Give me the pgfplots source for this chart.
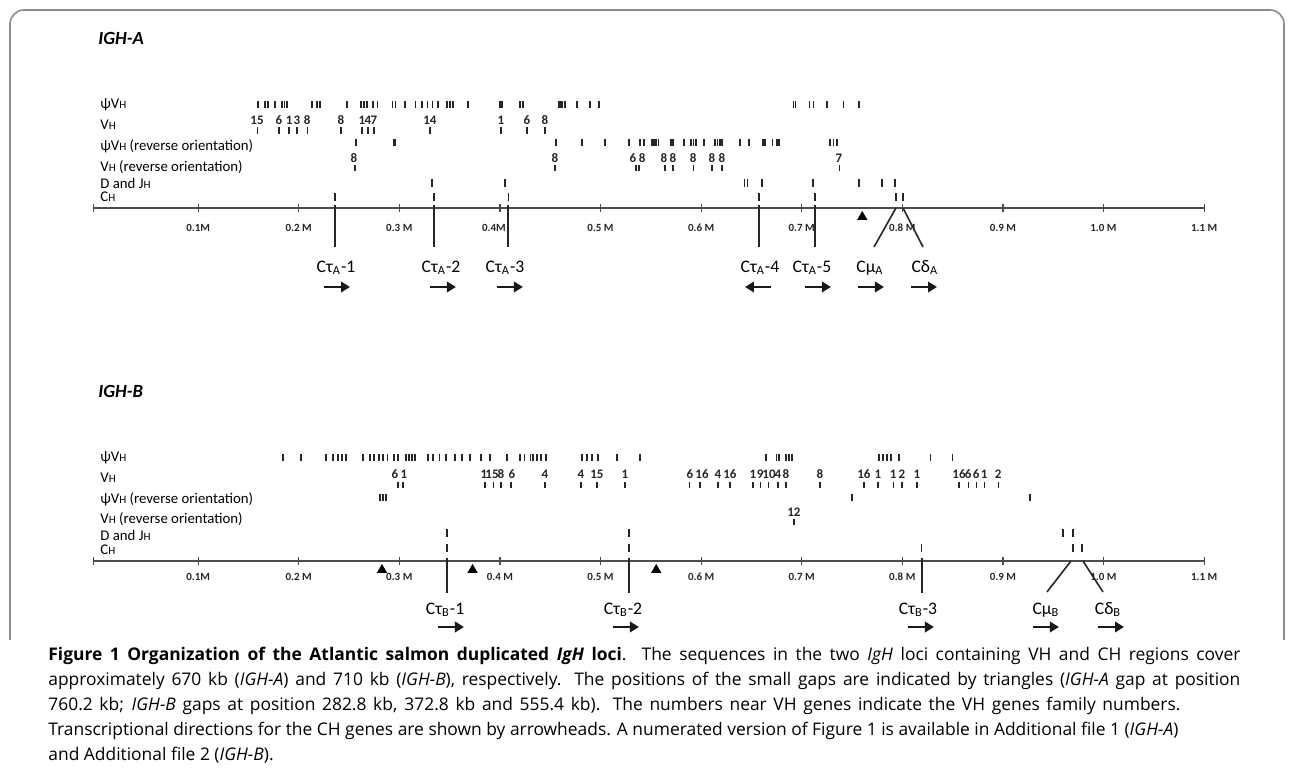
\documentclass[border=0pt]{standalone}
\usepackage{pgfplots}
\pgfplotsset{compat=1.18}
\usepackage{fontspec}
\setmainfont{Carlito}
\newfontfamily\capfont{Open Sans}
\usetikzlibrary{arrows.meta}
\newcommand{\sH}{{\fontsize{5.6}{6}\selectfont H}}
\newcommand{\rowfont}{\fontsize{7.4}{8}\selectfont}
\newcommand{\numfont}{\fontsize{6.5}{6.5}\selectfont\bfseries}
\newcommand{\tickfont}{\fontsize{5.5}{6}\selectfont\bfseries}
\newcommand{\gfont}{\fontsize{8.8}{10}\selectfont}
\newcommand{\ttlfont}{\fontsize{9.3}{10}\selectfont\bfseries\itshape}
\pgfplotsset{
  locus/.style={
    scale only axis, width=555.31pt, height=145pt,
    xmin=-4, xmax=1100, ymin=-100, ymax=190,
    axis x line=middle, axis y line=none,
    x axis line style={-, line width=0.6pt, draw=black!70},
    enlargelimits=false, clip=false,
    xtick={-4,100,200,300,400,500,600,700,800,900,1000,1100},
    tick align=center, major tick length=4pt,
    tick style={line width=0.6pt, black!70},
    xticklabel style={font=\tickfont, text=black!85, inner sep=0pt, anchor=north},
    anchor=south west,
  },
  gt/.style={only marks, mark=|, mark size=#1, mark options={line width=0.55pt, draw=black!85}},
  gb/.style={only marks, mark=|, mark size=#1, mark options={line width=1.2pt, draw=black!85}},
  lab/.style={draw=none, mark=none, nodes near coords, point meta=explicit symbolic,
    nodes near coords style={font=\numfont, anchor=center, inner sep=0pt, text=black!85}},
  cline/.style={line width=0.8pt, black!85},
  arr/.style={line width=1.1pt, black!90, -{Triangle[length=4.5pt,width=5.2pt]}},
  gap/.style={only marks, mark=triangle*, mark size=2.6pt, black},
}
\begin{document}
\begin{tikzpicture}[x=0.5pt,y=0.5pt]
\path (0,0) rectangle (1292,780);
\draw[black!45, line width=0.8pt, rounded corners=7pt] (10,140) -- (10,770) -- (1284,770) -- (1284,140);

% ---------------- IGH-A ----------------
\begin{axis}[locus, at={(46.74pt,236pt)}, xticklabel style={yshift=-5.8pt},
  xticklabels={,0.1M,0.2 M,0.3 M,0.4M\kern6pt,0.5 M,0.6 M,0.7 M,0.8 M,0.9 M,1.0 M,1.1 M}]
\node[anchor=west, inner sep=0pt, font=\ttlfont] at (axis cs:0.5,170) {IGH-A};
\node[anchor=west, inner sep=0pt, font=\rowfont] at (axis cs:2.5,103) {ψV\sH};
\node[anchor=west, inner sep=0pt, font=\rowfont] at (axis cs:2.5,83) {V\sH};
\node[anchor=west, inner sep=0pt, font=\rowfont] at (axis cs:2.5,62) {ψV\sH\ (reverse orientation)};
\node[anchor=west, inner sep=0pt, font=\rowfont] at (axis cs:2.5,41) {V\sH\ (reverse orientation)};
\node[anchor=west, inner sep=0pt, font=\rowfont] at (axis cs:2.5,25) {D and J\sH};
\node[anchor=west, inner sep=0pt, font=\rowfont] at (axis cs:2.5,11) {C\sH};
% psi VH
\addplot[gt=1.75pt] table[row sep=\\, y expr=103] {x\\ 159.5\\ 166.5\\ 169.5\\ 176.4\\ 183.4\\ 185.9\\ 188.4\\ 213.2\\ 218.2\\ 221.2\\ 248.0\\ 261.9\\ 264.9\\ 267.9\\ 273.9\\ 277.9\\ 292.8\\ 295.8\\ 315.7\\ 322.6\\ 327.6\\ 332.6\\ 338.5\\ 400.1\\ 402.1\\ 420.0\\ 423.0\\ 457.8\\ 459.7\\ 461.7\\ 464.7\\ 476.6\\ 498.5\\ 691.4\\ 693.4\\ 707.3\\ 711.3\\ 741.1\\ 757.0\\};
\addplot[gb=1.75pt] table[row sep=\\, y expr=103] {x\\ 305.7\\ 347.4\\ 350.4\\ 353.4\\ 368.3\\ 489.6\\ 725.2\\};
% VH
\addplot[gt=1.6pt] table[row sep=\\, y expr=77.5] {x\\ 158.6\\ 180.4\\ 190.4\\ 198.3\\ 208.3\\ 242.0\\ 262.9\\ 268.9\\ 274.8\\ 330.5\\ 401.1\\ 426.9\\ 444.8\\};
\addplot[lab] table[row sep=\\, y expr=87.5, meta=lab] {x lab\\ 158.6 15\\ 180.4 6\\ 190.4 1\\ 198.3 3\\ 208.3 8\\ 242.0 8\\ 262.9 1\\ 268.9 4\\ 274.8 7\\ 330.5 14\\ 401.1 1\\ 426.9 6\\ 444.8 8\\};
% psi VH reverse
\addplot[gt=1.75pt] table[row sep=\\, y expr=65] {x\\ 257.0\\ 455.8\\ 504.5\\ 528.3\\ 551.2\\ 553.2\\ 555.2\\ 557.2\\ 570.1\\ 572.1\\ 583.0\\ 590.0\\ 592.4\\ 594.9\\ 602.9\\ 613.8\\ 616.3\\ 618.8\\ 620.8\\ 638.7\\ 647.6\\ 661.5\\ 663.5\\ 671.4\\ 675.4\\ 677.4\\ 728.1\\ 731.6\\ 735.1\\};
\addplot[gb=1.75pt] table[row sep=\\, y expr=65] {x\\ 295.1\\ 481.6\\ 539.0\\ 543.5\\};
% VH reverse
\addplot[gt=1.6pt] table[row sep=\\, y expr=40] {x\\ 256.0\\ 454.8\\ 535.3\\ 538.3\\ 564.1\\ 572.1\\ 592.0\\ 610.8\\ 620.8\\ 738.0\\};
\addplot[lab] table[row sep=\\, y expr=50, meta=lab] {x lab\\ 255.0 8\\ 454.8 8\\ 532.3 6\\ 541.3 8\\ 563.1 8\\ 572.1 8\\ 592.0 8\\ 610.8 8\\ 620.8 8\\ 737.0 7\\};
% D and JH
\addplot[gt=2pt] table[row sep=\\, y expr=25] {x\\ 643.1\\ 646.1\\ 711.2\\};
\addplot[gb=2pt] table[row sep=\\, y expr=25] {x\\ 332.5\\ 405.1\\ 660.5\\ 757.0\\ 779.9\\ 792.8\\};
% CH
\addplot[gt=2pt] table[row sep=\\, y expr=11] {x\\ 236.1\\ 334.5\\ 408.1\\ 657.5\\ 713.2\\ 793.7\\ 800.7\\};
% constant gene lines
\addplot[cline] coordinates {(236.1,3) (236.1,-39)};
\addplot[cline] coordinates {(334.5,3) (334.5,-39)};
\addplot[cline] coordinates {(408.1,3) (408.1,-39)};
\addplot[cline] coordinates {(657.5,3) (657.5,-39)};
\addplot[cline] coordinates {(713.2,3) (713.2,-39)};
\addplot[cline] coordinates {(793.7,0) (771.9,-39)};
\addplot[cline] coordinates {(800.7,0) (820.6,-39)};
\addplot[gap] coordinates {(760.2,-9)};
\node[font=\gfont, inner sep=0pt] at (axis cs:237.1,-60) {Cτ\textsubscript{A}-1};
\node[font=\gfont, inner sep=0pt] at (axis cs:341.5,-60) {Cτ\textsubscript{A}-2};
\node[font=\gfont, inner sep=0pt] at (axis cs:405.1,-60) {Cτ\textsubscript{A}-3};
\node[font=\gfont, inner sep=0pt] at (axis cs:658.5,-60) {Cτ\textsubscript{A}-4};
\node[font=\gfont, inner sep=0pt] at (axis cs:710.2,-60) {Cτ\textsubscript{A}-5};
\node[font=\gfont, inner sep=0pt] at (axis cs:767.9,-60) {Cμ\textsubscript{A}};
\node[font=\gfont, inner sep=0pt] at (axis cs:822.5,-60) {Cδ\textsubscript{A}};
\addplot[arr] coordinates {(225.2,-79) (251.0,-79)};
\addplot[arr] coordinates {(330.5,-79) (356.3,-79)};
\addplot[arr] coordinates {(397.1,-79) (422.9,-79)};
\addplot[arr] coordinates {(669.4,-79) (643.6,-79)};
\addplot[arr] coordinates {(703.3,-79) (729.1,-79)};
\addplot[arr] coordinates {(756.0,-79) (781.8,-79)};
\addplot[arr] coordinates {(808.7,-79) (834.5,-79)};
\end{axis}

% ---------------- IGH-B ----------------
\begin{axis}[locus, at={(46.74pt,59.5pt)}, xticklabel style={yshift=-3.9pt},
  xticklabels={,0.1M,0.2 M,0.3 M,0.4 M,0.5 M,0.6 M,0.7 M,0.8 M,0.9 M,1.0 M,1.1 M}]
\node[anchor=west, inner sep=0pt, font=\ttlfont] at (axis cs:0.5,170) {IGH-B};
\node[anchor=west, inner sep=0pt, font=\rowfont] at (axis cs:2.5,103) {ψV\sH};
\node[anchor=west, inner sep=0pt, font=\rowfont] at (axis cs:2.5,83) {V\sH};
\node[anchor=west, inner sep=0pt, font=\rowfont] at (axis cs:2.5,62) {ψV\sH\ (reverse orientation)};
\node[anchor=west, inner sep=0pt, font=\rowfont] at (axis cs:2.5,42) {V\sH\ (reverse orientation)};
\node[anchor=west, inner sep=0pt, font=\rowfont] at (axis cs:2.5,26) {D and J\sH};
\node[anchor=west, inner sep=0pt, font=\rowfont] at (axis cs:2.5,11) {C\sH};
% psi VH
\addplot[gt=1.75pt] table[row sep=\\, y expr=103] {x\\ 184.4\\ 202.3\\ 227.1\\ 234.1\\ 243.0\\ 263.9\\ 270.9\\ 274.8\\ 279.8\\ 283.8\\ 288.7\\ 294.7\\ 298.7\\ 328.5\\ 333.5\\ 340.4\\ 346.4\\ 355.4\\ 362.3\\ 370.3\\ 381.2\\ 390.2\\ 407.1\\ 420.0\\ 424.0\\ 430.0\\ 432.9\\ 436.9\\ 481.6\\ 486.6\\ 491.5\\ 497.5\\ 539.3\\ 664.5\\ 674.5\\ 677.4\\ 684.4\\ 687.4\\ 690.4\\ 776.8\\ 780.8\\ 784.8\\ 788.8\\ 796.7\\ 827.6\\ 849.5\\};
\addplot[gb=1.75pt] table[row sep=\\, y expr=103] {x\\ 239.1\\ 247.0\\ 306.6\\ 309.6\\ 312.6\\ 315.6\\ 440.9\\ 445.8\\ 516.4\\};
% VH
\addplot[gt=1.6pt] table[row sep=\\, y expr=76] {x\\ 298.7\\ 303.7\\ 385.2\\ 393.2\\ 401.1\\ 411.0\\ 444.8\\ 480.6\\ 496.5\\ 524.3\\ 588.9\\ 598.9\\ 616.8\\ 628.7\\ 651.6\\ 658.6\\ 666.6\\ 676.4\\ 684.4\\ 718.2\\ 761.9\\ 775.8\\ 790.8\\ 799.7\\ 814.6\\ 856.4\\ 865.4\\ 873.4\\ 881.3\\ 895.2\\};
\addplot[lab] table[row sep=\\, y expr=87, meta=lab] {x lab\\ 295.7 6\\ 304.7 1\\ 384.2 1\\ 392.2 15\\ 401.1 8\\ 412.0 6\\ 444.8 4\\ 480.6 4\\ 496.5 15\\ 524.3 1\\ 588.9 6\\ 600.9 16\\ 616.8 4\\ 628.7 16\\ 651.6 1\\ 658.6 9\\ 667.5 10\\ 676.4 4\\ 684.4 8\\ 718.2 8\\ 761.9 16\\ 775.8 1\\ 790.8 1\\ 799.7 2\\ 814.6 1\\ 856.4 16\\ 865.4 6\\ 873.4 6\\ 881.3 1\\ 895.2 2\\};
% psi VH reverse
\addplot[gt=1.75pt] table[row sep=\\, y expr=63] {x\\ 280.8\\ 283.8\\ 286.8\\ 750.0\\};
\addplot[gb=1.75pt] table[row sep=\\, y expr=63] {x\\ 926.9\\};
% VH reverse
\addplot[gt=1.6pt] table[row sep=\\, y expr=39] {x\\ 692.3\\};
\addplot[lab] table[row sep=\\, y expr=49, meta=lab] {x lab\\ 692.3 12\\};
% D and JH
\addplot[gt=2pt] table[row sep=\\, y expr=28] {x\\ 347.4\\};
\addplot[gb=2pt] table[row sep=\\, y expr=28] {x\\ 528.3\\ 959.7\\ 969.7\\};
% CH
\addplot[gt=2pt] table[row sep=\\, y expr=13] {x\\ 347.4\\ 528.3\\ 819.5\\ 969.7\\ 978.6\\};
% constant gene lines
\addplot[cline] coordinates {(347.4,3) (347.4,-32)};
\addplot[cline] coordinates {(528.3,3) (528.3,-32)};
\addplot[cline] coordinates {(819.5,3) (819.5,-32)};
\addplot[cline] coordinates {(967.7,0) (943.8,-31)};
\addplot[cline] coordinates {(979.6,0) (999.5,-31)};
\addplot[gap] coordinates {(282.8,-9) (372.8,-9) (555.4,-9)};
\node[font=\gfont, inner sep=0pt] at (axis cs:345.5,-49) {Cτ\textsubscript{B}-1};
\node[font=\gfont, inner sep=0pt] at (axis cs:522.4,-49) {Cτ\textsubscript{B}-2};
\node[font=\gfont, inner sep=0pt] at (axis cs:815.6,-49) {Cτ\textsubscript{B}-3};
\node[font=\gfont, inner sep=0pt] at (axis cs:942.8,-49) {Cμ\textsubscript{B}};
\node[font=\gfont, inner sep=0pt] at (axis cs:1004.5,-49) {Cδ\textsubscript{B}};
\addplot[arr] coordinates {(338.5,-66) (364.3,-66)};
\addplot[arr] coordinates {(512.4,-66) (538.2,-66)};
\addplot[arr] coordinates {(805.7,-66) (831.5,-66)};
\addplot[arr] coordinates {(929.9,-66) (955.7,-66)};
\addplot[arr] coordinates {(994.6,-66) (1020.4,-66)};
\end{axis}

% ---------------- caption ----------------
\begin{scope}[every node/.style={anchor=base west, inner sep=0pt, font=\capfont\fontsize{8.7}{10}\selectfont}]
\node at (48,119) {\makebox[596pt][s]{\textbf{Figure 1 Organization of the Atlantic salmon duplicated \textit{IgH} loci}. The sequences in the two \textit{IgH} loci containing VH and CH regions cover}};
\node at (48,94) {\makebox[596pt][s]{approximately 670 kb (\textit{IGH-A}) and 710 kb (\textit{IGH-B}), respectively. The positions of the small gaps are indicated by triangles (\textit{IGH-A} gap at position}};
\node at (48,69) {\makebox[566pt][s]{760.2 kb; \textit{IGH-B} gaps at position 282.8 kb, 372.8 kb and 555.4 kb). The numbers near VH genes indicate the VH genes family numbers.}};
\node at (48,44) {Transcriptional directions for the CH genes are shown by arrowheads. A numerated version of Figure 1 is available in Additional file 1 (\textit{IGH-A})};
\node at (48,19) {and Additional file 2 (\textit{IGH-B}).};
\end{scope}
\end{tikzpicture}
\end{document}
